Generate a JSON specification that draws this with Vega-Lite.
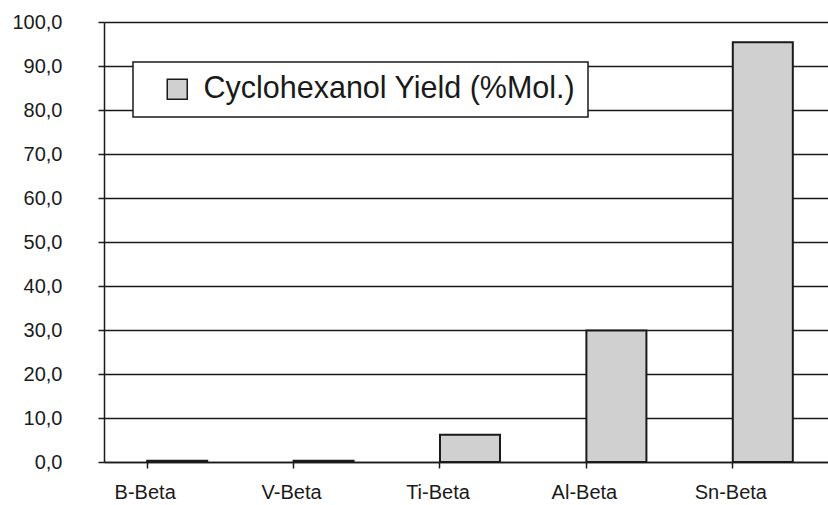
{
  "$schema": "https://vega.github.io/schema/vega-lite/v6.json",
  "autosize": {"type": "none"},
  "width": 724,
  "height": 440,
  "padding": {"left": 104, "top": 22, "right": 0, "bottom": 43},
  "background": "white",
  "data": {
    "values": [
      {"catalyst": "B-Beta", "yield": 0.3, "series": "Cyclohexanol Yield (%Mol.)"},
      {"catalyst": "V-Beta", "yield": 0.3, "series": "Cyclohexanol Yield (%Mol.)"},
      {"catalyst": "Ti-Beta", "yield": 6.2, "series": "Cyclohexanol Yield (%Mol.)"},
      {"catalyst": "Al-Beta", "yield": 29.9, "series": "Cyclohexanol Yield (%Mol.)"},
      {"catalyst": "Sn-Beta", "yield": 95.4, "series": "Cyclohexanol Yield (%Mol.)"}
    ]
  },
  "mark": {"type": "bar", "stroke": "#1a1a1a", "strokeWidth": 2},
  "encoding": {
    "x": {
      "field": "catalyst",
      "type": "nominal",
      "sort": null,
      "scale": {"paddingInner": 0.59, "paddingOuter": 0.295, "range": [0, 732]},
      "axis": {
        "title": null,
        "labelAngle": 0,
        "labelFont": "Liberation Sans",
        "labelFontSize": 20,
        "labelColor": "#1a1a1a",
        "labelOffset": -32,
        "labelPadding": 14,
        "bandPosition": 0,
        "tickSize": 6,
        "tickColor": "#1a1a1a",
        "tickWidth": 1.5,
        "domainColor": "#1a1a1a",
        "domainWidth": 1.5,
        "grid": false
      }
    },
    "y": {
      "field": "yield",
      "type": "quantitative",
      "scale": {"domain": [0, 100], "nice": false},
      "axis": {
        "title": null,
        "values": [0, 10, 20, 30, 40, 50, 60, 70, 80, 90, 100],
        "labelExpr": "replace(format(datum.value, '.1f'), '.', ',')",
        "labelFont": "Liberation Sans",
        "labelFontSize": 20,
        "labelColor": "#1a1a1a",
        "labelPadding": 36,
        "tickSize": 6,
        "tickColor": "#1a1a1a",
        "tickWidth": 1.5,
        "domainColor": "#1a1a1a",
        "domainWidth": 1.5,
        "grid": true,
        "gridColor": "#1a1a1a",
        "gridWidth": 1.5
      }
    },
    "fill": {
      "field": "series",
      "type": "nominal",
      "scale": {"range": ["#d0d0d0"]},
      "legend": {
        "title": null,
        "orient": "none",
        "legendX": 29,
        "legendY": 40,
        "padding": 12,
        "strokeColor": "#1a1a1a",
        "fillColor": "white",
        "symbolType": "square",
        "symbolSize": 400,
        "symbolStrokeColor": "#1a1a1a",
        "symbolStrokeWidth": 1.5,
        "symbolOffset": 17,
        "labelFont": "Liberation Sans",
        "labelFontSize": 30.5,
        "labelColor": "#1a1a1a",
        "labelOffset": 11,
        "labelLimit": 600
      }
    }
  },
  "config": {
    "view": {"stroke": null},
    "legend": {"strokeWidth": 1.5}
  }
}
